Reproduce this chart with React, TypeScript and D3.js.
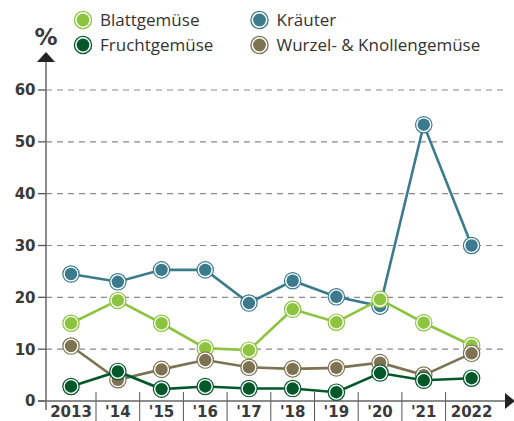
import React from "react";
import * as d3 from "d3";

const years = ["2013", "'14", "'15", "'16", "'17", "'18", "'19", "'20", "'21", "2022"];
const kraeuter = [24.5, 23.0, 25.3, 25.3, 18.9, 23.2, 20.1, 18.3, 53.3, 30.0];
const blatt = [15.0, 19.4, 15.0, 10.2, 9.8, 17.7, 15.2, 19.6, 15.1, 10.7];
const wurzel = [10.6, 4.1, 6.1, 7.9, 6.5, 6.2, 6.4, 7.4, 5.0, 9.2];
const frucht = [2.8, 5.7, 2.3, 2.8, 2.4, 2.4, 1.7, 5.4, 4.0, 4.4];
const yTicks = [0, 10, 20, 30, 40, 50, 60];

const seriesNames = ["Blattgemüse", "Fruchtgemüse", "Kräuter", "Wurzel- & Knollengemüse"];

const COLORS: Record<string, string> = {
  "Kräuter": "#3b7b8d",
  "Blattgemüse": "#8cc43f",
  "Wurzel- & Knollengemüse": "#7d7352",
  "Fruchtgemüse": "#03582a",
};

// drawing order: bottom to top
const series = [
  { name: "Kräuter", values: kraeuter },
  { name: "Blattgemüse", values: blatt },
  { name: "Wurzel- & Knollengemüse", values: wurzel },
  { name: "Fruchtgemüse", values: frucht },
];

const W = 514;
const H = 421;
const axisX = 46;
const axisY = 401;
const firstBand = 50;
const innerBand = 43.7;
const lastBand = 52;
const FONT = "'Open Sans', sans-serif";
const BOLD = "'DejaVu Sans', sans-serif";

export default function App() {
  const n = years.length;
  const c0 = axisX + firstBand / 2;
  const c1 = axisX + firstBand + innerBand / 2;
  const cLastPrev = axisX + firstBand + innerBand * (n - 2) - innerBand / 2;
  const cLast = axisX + firstBand + innerBand * (n - 2) + lastBand / 2;
  const x = d3
    .scaleLinear()
    .domain([0, 1, n - 2, n - 1])
    .range([c0, c1, cLastPrev, cLast]);
  const sepX = (i: number) => axisX + firstBand + innerBand * (i - 1);

  const y = d3.scaleLinear().domain([0, 60]).range([axisY, 90]);

  const line = d3
    .line<number>()
    .x((_, i) => x(i))
    .y((v) => y(v));

  return (
    <svg width={W} height={H} style={{ position: "absolute", left: 0, top: 0 }}>
      <rect width={W} height={H} fill="#fff" />
      {yTicks.filter((t) => t > 0).map((t) => (
        <line key={t} x1={axisX} x2={503} y1={y(t)} y2={y(t)} stroke="#8a8a8a" strokeWidth={1.2} strokeDasharray="6 5" />
      ))}
      {yTicks.map((t) => (
        <g key={"yt" + t}>
          <line x1={38} x2={axisX} y1={y(t)} y2={y(t)} stroke="#555" strokeWidth={1.3} />
          <text x={35.5} y={y(t)} dy="0.36em" textAnchor="end" fontFamily={BOLD} fontWeight={700} fontSize={15} fill="#3a3a3a">
            {t}
          </text>
        </g>
      ))}
      {years.slice(1).map((_, k) => (
        <line key={"sep" + k} x1={sepX(k + 1)} x2={sepX(k + 1)} y1={392} y2={421} stroke="#555" strokeWidth={1} />
      ))}
      {years.map((yr, i) => (
        <text key={yr} x={x(i)} y={416.5} textAnchor="middle" fontFamily={BOLD} fontWeight={700} fontSize={15} fill="#3a3a3a">
          {yr}
        </text>
      ))}
      <line x1={axisX} x2={axisX} y1={62} y2={410} stroke="#666" strokeWidth={1.5} />
      <path d={`M${axisX - 9},62 L${axisX},52 L${axisX + 9},62 Z`} fill="#222" />
      <line x1={38} x2={505} y1={axisY} y2={axisY} stroke="#666" strokeWidth={1.5} />
      <path d={`M505,393 L515,401 L505,409 Z`} fill="#222" />
      <text x={axisX} y={45} textAnchor="middle" fontFamily={BOLD} fontWeight={700} fontSize={23} fill="#3a3a3a">
        %
      </text>
      {series.map((s) => (
        <g key={s.name}>
          <path d={line(s.values) || ""} fill="none" stroke={COLORS[s.name]} strokeWidth={2.6} />
          {s.values.map((v, i) => (
            <g key={i}>
              <circle cx={x(i)} cy={y(v)} r={8.2} fill="#fff" stroke={COLORS[s.name]} strokeWidth={1.2} />
              <circle cx={x(i)} cy={y(v)} r={6.2} fill={COLORS[s.name]} />
            </g>
          ))}
        </g>
      ))}
      {seriesNames.map((name, k) => {
        const col = Math.floor(k / 2);
        const row = k % 2;
        const cx = col === 0 ? 83 : 259.5;
        const cy = 20 + row * 25;
        return (
          <g key={name}>
            <circle cx={cx} cy={cy} r={8.6} fill="#fff" stroke={COLORS[name]} strokeWidth={1.3} />
            <circle cx={cx} cy={cy} r={6.4} fill={COLORS[name]} />
            <text x={cx + 17} y={cy} dy="0.36em" fontFamily={FONT} fontSize={17} fill="#333">
              {name}
            </text>
          </g>
        );
      })}
    </svg>
  );
}
